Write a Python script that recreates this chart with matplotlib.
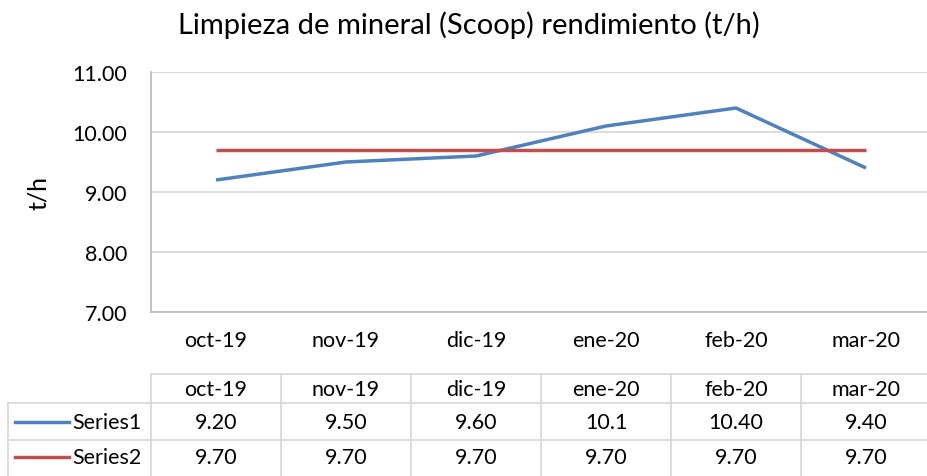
import matplotlib
matplotlib.use("Agg")
import matplotlib.pyplot as plt
import matplotlib.transforms as mtransforms
from matplotlib.lines import Line2D

plt.rcParams['font.family'] = ['Lato', 'DejaVu Sans']

meses = ['oct-19', 'nov-19', 'dic-19', 'ene-20', 'feb-20', 'mar-20']
series1 = [9.20, 9.50, 9.60, 10.1, 10.40, 9.40]
series2 = [9.70, 9.70, 9.70, 9.70, 9.70, 9.70]
series1_txt = ['9.20', '9.50', '9.60', '10.1', '10.40', '9.40']
series2_txt = ['9.70', '9.70', '9.70', '9.70', '9.70', '9.70']
nombres = ['Series1', 'Series2']
colores = ['#4F81BD', '#C0504D']

W, H = 928, 477
fig = plt.figure(figsize=(W / 100, H / 100), dpi=100)


def fx(px):
    return px / W


def fy(py):
    return 1 - py / H


# area del grafico
ax = fig.add_axes([fx(151), fy(313), fx(780), 240 / H])
x = range(len(meses))
ax.plot(x, series1, color=colores[0], lw=2.5, solid_capstyle='butt')
ax.plot(x, series2, color=colores[1], lw=2.5, solid_capstyle='butt')
ax.set_xlim(-0.5, len(meses) - 0.5)
ax.set_ylim(7, 11)
ax.set_yticks([7, 8, 9, 10, 11])
ax.set_yticklabels([f'{v:.2f}' for v in [7, 8, 9, 10, 11]])
ax.set_xticks(list(x))
ax.set_xticklabels(meses)
ax.tick_params(length=0, labelsize=15.5, colors='black')
ax.tick_params(axis='y', pad=17)
ax.tick_params(axis='x', pad=13)
ax.grid(axis='y', color='#D9D9D9', lw=1.3)
ax.set_axisbelow(True)
for s in ['top', 'right']:
    ax.spines[s].set_visible(False)
ax.spines['left'].set_color('#BFBFBF')
ax.spines['bottom'].set_color('#BFBFBF')
ax.spines['left'].set_linewidth(1.3)
ax.spines['bottom'].set_linewidth(1.3)
ax.axhline(11, color='#C6D9F1', lw=1.5, zorder=0)
ax.set_ylabel('t/h', fontsize=18, labelpad=16)

fig.text(fx(469), fy(25), 'Limpieza de mineral (Scoop) rendimiento (t/h)',
         ha='center', va='center', fontsize=21)

# tabla de datos
tr = mtransforms.blended_transform_factory(ax.transData, fig.transFigure)
gc = '#D9D9D9'
y_top, y_r1, y_r2, y_bot = fy(375), fy(404), fy(441), fy(480)
xr = len(meses) - 0.5
fig.add_artist(Line2D([-0.5, xr], [y_top, y_top], transform=tr, color=gc, lw=1.3))
for yy in [y_r1, y_r2]:
    fig.add_artist(Line2D([fx(8), fx(931)], [yy, yy], transform=fig.transFigure, color=gc, lw=1.3))
fig.add_artist(Line2D([fx(8), fx(8)], [y_r1, y_bot], transform=fig.transFigure, color=gc, lw=1.3))
for i in range(len(meses) + 1):
    fig.add_artist(Line2D([i - 0.5, i - 0.5], [y_top, y_bot], transform=tr, color=gc, lw=1.3))

fila_y = [fy(390), fy(423), fy(458)]
for i, m in enumerate(meses):
    fig.text(i, fila_y[0], m, transform=tr, ha='center', va='center', fontsize=15.5)
    fig.text(i, fila_y[1], series1_txt[i], transform=tr, ha='center', va='center', fontsize=15.5)
    fig.text(i, fila_y[2], series2_txt[i], transform=tr, ha='center', va='center', fontsize=15.5)

for k, (nom, col) in enumerate(zip(nombres, colores)):
    yy = fila_y[k + 1]
    fig.add_artist(Line2D([fx(15), fx(69)], [yy, yy], transform=fig.transFigure, color=col, lw=2.5))
    fig.text(fx(72), yy, nom, ha='left', va='center', fontsize=15.5)

fig.savefig('out.png', dpi=100)
